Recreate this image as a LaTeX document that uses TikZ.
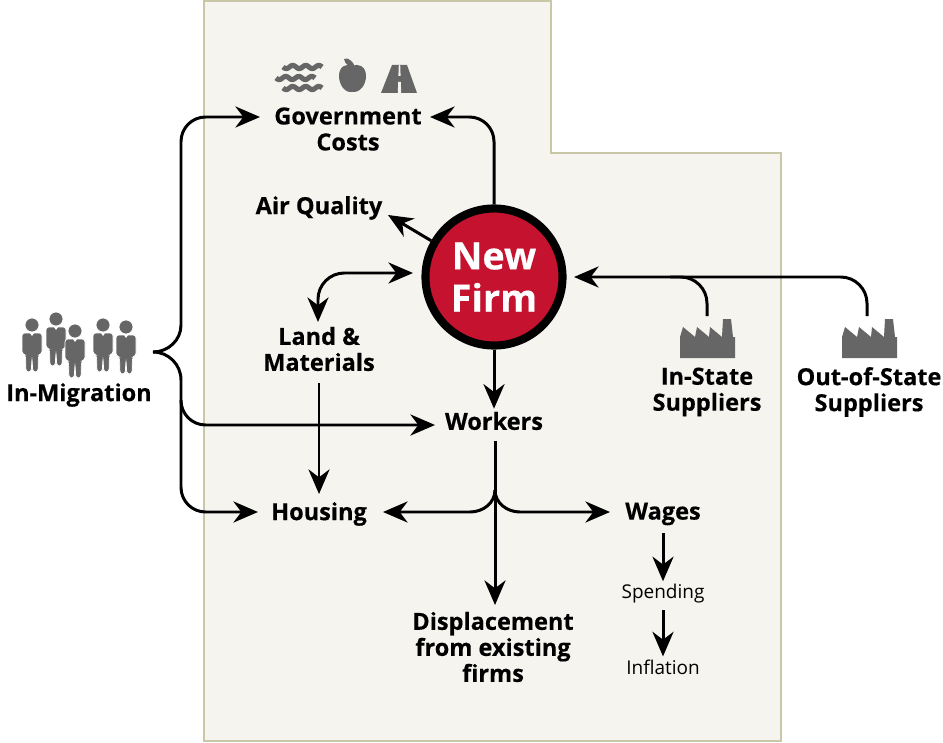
\documentclass[tikz,border=0pt]{standalone}
\usepackage{fontspec}
\setmainfont{Open Sans}
\newfontfamily\heavyfont[BoldFeatures={FakeBold=0.35}]{Open Sans}
\usetikzlibrary{arrows.meta,shapes,positioning}

\definecolor{statefill}{HTML}{F5F4EE}
\definecolor{stateline}{HTML}{C8C7A6}
\definecolor{firmred}{HTML}{C4122F}
\definecolor{icongray}{HTML}{666666}

\tikzset{
  factor/.style={align=center,inner sep=1pt,font=\fontsize{13.4}{14.8}\selectfont\heavyfont\bfseries},
  minor/.style={inner sep=1pt,font=\fontsize{10.8}{13}\selectfont},
  hub/.style={circle,draw=black,line width=4.6pt,fill=firmred,text=white,align=center,
    minimum size=78pt,inner sep=0pt,font=\fontsize{21.5}{24}\selectfont\heavyfont\bfseries},
  pics/person/.style={code={
    \fill[icongray,draw=white,line width=.4pt] (0,0) circle (7);
    \fill[icongray,draw=white,line width=.4pt,rounded corners=1.6pt]
      (-10,8) -- (10,8) -- (10,29) -- (6.5,30) -- (6,47) -- (.8,47) -- (0,33)
      -- (-.8,47) -- (-6,47) -- (-6.5,30) -- (-10,29) -- cycle;
    \fill[white] (-2,8) -- (2,8) -- (0,11) -- cycle;
  }},
  pics/factory/.style={code={
    \fill[icongray] (0,0) -- (0,-21) -- (3,-31) -- (15,-21) -- (17,-31) -- (29,-21)
      -- (30,-31) -- (42,-21) -- (43,-39) -- (51,-39) -- (53,-21) -- (55,-21) -- (55,0) -- cycle;
  }}
}

\begin{document}
\begin{tikzpicture}[x=0.02cm,y=-0.02cm,line width=1.7pt,
                    >={Stealth[length=14pt,width=12pt,inset=4.5pt]}]

  \useasboundingbox (0,0) rectangle (943,743);

  \fill[statefill,draw=stateline,line width=1.6pt]
    (204,1) -- (551,1) -- (551,153) -- (781,153) -- (781,741) -- (204,741) -- cycle;

  \node[hub]    (firm)    at (494,277) {New\\Firm};
  \node[factor] (gov)     at (348,129) {Government\\Costs};
  \node[factor] (air)     at (319,208) {Air Quality};
  \node[factor] (land)    at (319,349) {Land \&\\Materials};
  \node[factor] (workers) at (494,421) {Workers};
  \node[factor] (housing) at (319,514) {Housing};
  \node[factor] (wages)   at (663,514) {Wages};
  \node[factor] (displ)   at (493,647) {Displacement\\from existing\\firms};
  \node[minor]  (spend)   at (663,594) {Spending};
  \node[minor]  (infl)    at (663,667) {Inflation};
  \node[factor] (migr)    at (79,395)  {In-Migration};
  \node[factor] (instate) at (707,392) {In-State\\Suppliers};
  \node[factor] (outstate) at (869,392) {Out-of-State\\Suppliers};

  \pic at (32,325)  {person};
  \pic at (56,319)  {person};
  \pic at (75,331)  {person};
  \pic at (103,325) {person};
  \pic at (126,327) {person};
  \pic at (680,358) {factory};
  \pic at (842,358) {factory};

  \foreach \wx/\wy in {283/67,276/78,283/88} {
    \draw[icongray,line width=2.9pt,shift={(\wx,\wy)}]
      plot[domain=0:39,samples=50,variable=\t,smooth] (\t,{1.6*sin(\t*360/13)});
  }
  \fill[icongray] (352,66) .. controls (358,63) and (366,66) .. (366,76)
    .. controls (366,85) and (360,93) .. (352,92)
    .. controls (345,93) and (339,85) .. (339,76)
    .. controls (339,66) and (347,63) .. (352,66) -- cycle;
  \fill[icongray] (344,59) .. controls (348,57) and (353,61) .. (355,67)
    .. controls (350,67) and (345,65) .. (344,59) -- cycle;
  \fill[icongray] (392,65) -- (407,65) -- (417,93) -- (381,93) -- cycle;
  \fill[statefill] (398.8,65) -- (400.2,65) -- (400.6,76) -- (398.4,76) -- cycle;
  \fill[statefill] (398.2,82) -- (400.8,82) -- (401.2,93) -- (397.8,93) -- cycle;

  \coordinate (brace) at (153,352);
  \coordinate (braceU) at (181,325);
  \coordinate (braceD) at (181,380);
  \coordinate (govL)  at (260,117);
  \coordinate (govR)  at (430,117);
  \coordinate (airTip) at (388,215);
  \coordinate (workL) at (435,425);
  \coordinate (landT) at (413,273);
  \coordinate (landB) at (318,322);
  \coordinate (split) at (495,490);
  \coordinate (lowL)  at (181,400);
  \coordinate (firmE) at (574,277);
  \coordinate (inTop) at (707,316);
  \coordinate (inEnd) at (670,277);
  \coordinate (outTop) at (867,316);
  \coordinate (workB) at (495,441);
  \coordinate (houseR) at (383,512);
  \coordinate (splitL) at (470,512);
  \coordinate (splitR) at (520,512);
  \coordinate (wagesL) at (610,512);
  \coordinate (houseL) at (258,512);
  \coordinate (displT) at (495,605);
  \coordinate (landS)  at (319,383);
  \coordinate (houseT) at (319,494);
  \coordinate (wagesS) at (663,533);
  \coordinate (spendS) at (663,610);

  \draw[->,rounded corners=14pt] (firm.north) |- (govR);
  \draw[->] (firm.150) -- (airTip);
  \draw[<->,rounded corners=15pt] (landT) -| (landB);
  \draw[->] (firm.south) -- (workers.north);
  \draw[->] (landS) -- (houseT);

  \draw (brace) to[out=0,in=-90] (braceU);
  \draw (brace) to[out=0,in=90] (braceD);
  \draw[->,rounded corners=14pt] (braceU) |- (govL);
  \draw[->,rounded corners=14pt] (braceD) |- (workL);
  \draw[->,rounded corners=14pt] (lowL) |- (houseL);

  \draw[->] (workB) -- (displT);
  \draw[->] (split) to[out=-90,in=0] (splitL) -- (houseR);
  \draw[->] (split) to[out=-90,in=180] (splitR) -- (wagesL);

  \draw[->] (wagesS) -- (spend.north);
  \draw[->] (spendS) -- (infl.north);

  \draw[rounded corners=15pt] (inTop) |- (inEnd);
  \draw[->,rounded corners=15pt] (outTop) |- (firmE);
\end{tikzpicture}
\end{document}
